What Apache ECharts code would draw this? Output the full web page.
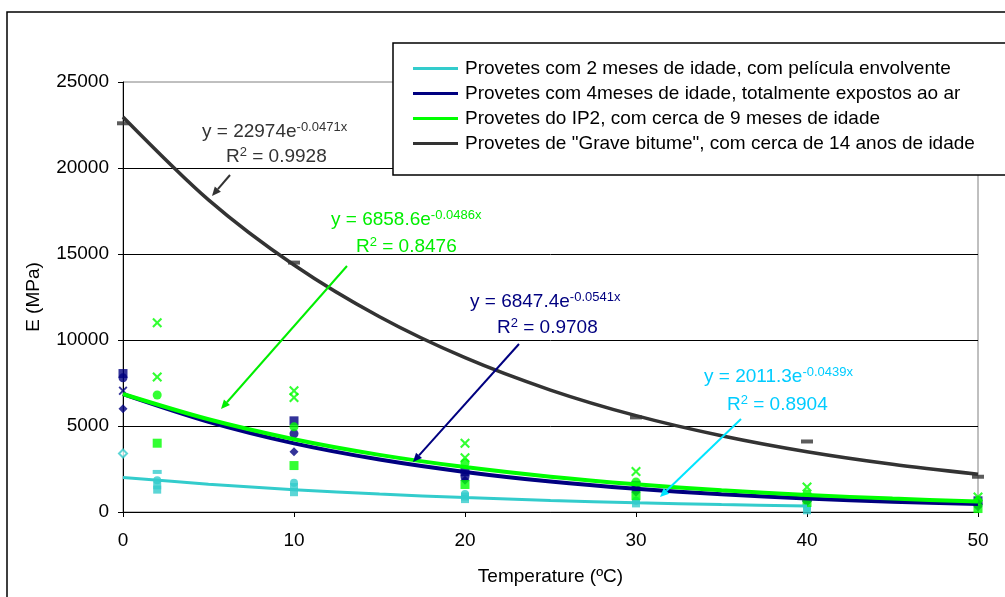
<!DOCTYPE html>
<html>
<head>
<meta charset="utf-8">
<script src="https://cdn.jsdelivr.net/npm/echarts@6/dist/echarts.min.js"></script>
<style>
html, body { margin: 0; padding: 0; background: #fff; }
#main { width: 1005px; height: 597px; }
</style>
</head>
<body>
<div id="main"></div>
<script>
// legend names
var seriesNames = [
    'Provetes com 2 meses de idade, com película envolvente',
    'Provetes com 4meses de idade, totalmente expostos ao ar',
    'Provetes do IP2, com cerca de 9 meses de idade',
    'Provetes de "Grave bitume", com cerca de 14 anos de idade'
];

// trend lines
var cyanFit  = [[0,2010],[5,1620],[10,1300],[15,1040],[20,840],[25,670],[30,540],[35,430],[40,350]];
var navyFit  = [[0,6850],[5,5240],[10,3990],[15,3050],[20,2330],[25,1770],[30,1350],[35,1030],[40,790],[45,600],[50,460]];
var greenFit = [[0,6860],[5,5390],[10,4230],[15,3320],[20,2610],[25,2050],[30,1610],[35,1260],[40,990],[45,780],[50,610]];
var blackFit = [[0,22970],[5,18150],[10,14360],[15,11350],[20,8970],[25,7090],[30,5600],[35,4430],[40,3500],[45,2770],[50,2190]];

// measured points
var cyanDiamond = [[0,3400]];
var cyanDash    = [[2,2330]];
var cyanCircle  = [[2,1850],[10,1700],[20,1050],[30,650],[40,250]];
var cyanSquare  = [[2,1550],[2,1300],[10,1450],[10,1150],[20,900],[20,750],[30,500],[40,100]];

var navySquare  = [[0,8050],[10,5300],[20,2350],[30,1550],[40,850],[50,650]];
var navyCircle  = [[0,7800],[10,4550],[20,2050],[30,1300],[40,700],[50,450]];
var navyCross   = [[0,7050]];
var navyDiamond = [[0,6000],[10,3500],[20,1850],[30,1150],[40,600],[50,300]];

var greenCross  = [[2,11000],[2,7850],[10,7050],[10,6650],[20,4000],[20,3150],[30,2350],[40,1450],[50,870]];
var greenCircle = [[2,6800],[10,4950],[20,2850],[30,1750],[40,1050],[50,650]];
var greenSquare = [[2,4000],[10,2700],[20,1600],[30,950],[40,550],[50,200]];

var blackDash   = [[0,22600],[10,14500],[30,5500],[40,4100],[50,2050]];

var FONT = '"Liberation Sans", Arial, sans-serif';
var FS = 19, SUP = 13;
var CROSS = 'path://M0,1.5L1.5,0L5,3.5L8.5,0L10,1.5L6.5,5L10,8.5L8.5,10L5,6.5L1.5,10L0,8.5L3.5,5Z';

function fitLine(name, data, color, w) {
    return {
        name: name, type: 'line', data: data, smooth: 0.3,
        symbol: 'none', showSymbol: false, z: 3,
        lineStyle: { color: color, width: w },
        itemStyle: { color: color }
    };
}

function pts(data, color, symbol, size) {
    return {
        type: 'scatter', data: data, symbol: symbol, symbolSize: size, z: 2,
        itemStyle: { color: color }, silent: true
    };
}

function arrow(x1, y1, x2, y2, color) {
    var a = Math.atan2(y2 - y1, x2 - x1), L = 9, W = 4;
    var bx = x2 - L * Math.cos(a), by = y2 - L * Math.sin(a);
    var px = -Math.sin(a) * W, py = Math.cos(a) * W;
    return [
        { type: 'line', z: 20, shape: { x1: x1, y1: y1, x2: bx, y2: by },
          style: { stroke: color, lineWidth: 2 } },
        { type: 'polygon', z: 20, shape: { points: [[x2, y2], [bx + px, by + py], [bx - px, by - py]] },
          style: { fill: color } }
    ];
}

function richStyle(color) {
    return { a: { fontSize: FS, fontFamily: FONT, lineHeight: 22, fill: color },
             s: { fontSize: SUP, fontFamily: FONT, lineHeight: 22, verticalAlign: 'top', fill: color } };
}
function eqText(x, y, base, sup, color) {
    return { type: 'text', z: 20, x: x, y: y,
        style: { text: '{a|' + base + '}{s|' + sup + '}', fill: color, verticalAlign: 'middle', rich: richStyle(color) } };
}
function r2Text(x, y, val, color) {
    return { type: 'text', z: 20, x: x, y: y,
        style: { text: '{a|R}{s|2}{a| = ' + val + '}', fill: color, verticalAlign: 'middle', rich: richStyle(color) } };
}

var chart = echarts.init(document.getElementById('main'));

var graphics = [
    { type: 'rect', z: 0, shape: { x: 7, y: 12, width: 1200, height: 800 },
      style: { fill: 'none', stroke: '#000', lineWidth: 1.5 } },
    { type: 'rect', z: 8, shape: { x: 393, y: 43, width: 700, height: 132 },
      style: { fill: '#fff', stroke: '#000', lineWidth: 1.5 } },
    eqText(202, 132, 'y = 22974e', '-0.0471x', '#333333'),
    r2Text(226, 157, '0.9928', '#333333'),
    eqText(331, 220, 'y = 6858.6e', '-0.0486x', '#00ee00'),
    r2Text(356, 247, '0.8476', '#00ee00'),
    eqText(470, 302, 'y = 6847.4e', '-0.0541x', '#000080'),
    r2Text(497, 328, '0.9708', '#000080'),
    eqText(704, 377, 'y = 2011.3e', '-0.0439x', '#00ccff'),
    r2Text(727, 405, '0.8904', '#00ccff')
].concat(arrow(230, 175, 212, 196, '#333333'))
 .concat(arrow(347, 266, 221, 409, '#00ee00'))
 .concat(arrow(519, 344, 413, 462, '#000080'))
 .concat(arrow(741, 419, 660, 497, '#00e5ff'));

chart.setOption({
    animation: false,
    backgroundColor: '#fff',
    textStyle: { fontFamily: FONT },
    grid: { left: 123, top: 82, width: 855, height: 430, show: true,
            borderColor: '#808080', borderWidth: 1, backgroundColor: 'transparent' },
    legend: {
        data: seriesNames, orient: 'vertical', left: 413, top: 59, z: 10,
        icon: 'rect', itemWidth: 45, itemHeight: 3, itemGap: 6, padding: 0,
        textStyle: { fontSize: FS, lineHeight: 19, color: '#000', fontFamily: FONT, padding: [0, 0, 0, 2] }
    },
    xAxis: {
        type: 'value', min: 0, max: 50, interval: 10,
        name: 'Temperature (ºC)', nameLocation: 'middle', nameGap: 55,
        nameTextStyle: { fontSize: FS, color: '#000', fontFamily: FONT },
        axisLine: { lineStyle: { color: '#000', width: 1 } },
        axisTick: { show: true, length: 5, lineStyle: { color: '#000' } },
        axisLabel: { fontSize: FS, color: '#000', margin: 19, fontFamily: FONT },
        splitLine: { show: false }
    },
    yAxis: {
        type: 'value', min: 0, max: 25000, interval: 5000,
        name: 'E (MPa)', nameLocation: 'middle', nameGap: 80,
        nameTextStyle: { fontSize: FS, color: '#000', fontFamily: FONT },
        axisLine: { show: true, lineStyle: { color: '#000', width: 1 } },
        axisTick: { show: true, length: 5, lineStyle: { color: '#000' } },
        axisLabel: { fontSize: FS, color: '#000', margin: 14, fontFamily: FONT,
                     formatter: function (v) { return String(v); } },
        splitLine: { show: true, showMaxLine: false, lineStyle: { color: '#000', width: 1 } }
    },
    graphic: { elements: graphics },
    series: [
        pts(cyanDiamond, '#33cccc', 'emptyDiamond', 8),
        pts(cyanDash, '#33cccc', 'rect', [9, 4]),
        pts(cyanCircle, '#33cccc', 'circle', 8),
        pts(cyanSquare, '#33cccc', 'rect', 8),
        pts(navySquare, '#000080', 'rect', 9),
        pts(navyCircle, '#000080', 'circle', 9),
        pts(navyCross, '#000080', CROSS, 9),
        pts(navyDiamond, '#000080', 'diamond', 9),
        pts(greenCross, '#00ff00', CROSS, 10),
        pts(greenCircle, '#00ff00', 'circle', 9),
        pts(greenSquare, '#00ff00', 'rect', 9),
        pts(blackDash, '#333333', 'rect', [12, 4]),
        fitLine(seriesNames[0], cyanFit, '#33cccc', 3),
        fitLine(seriesNames[1], navyFit, '#000080', 4),
        fitLine(seriesNames[2], greenFit, '#00ff00', 4),
        fitLine(seriesNames[3], blackFit, '#333333', 3.5)
    ]
});
</script>
</body>
</html>
